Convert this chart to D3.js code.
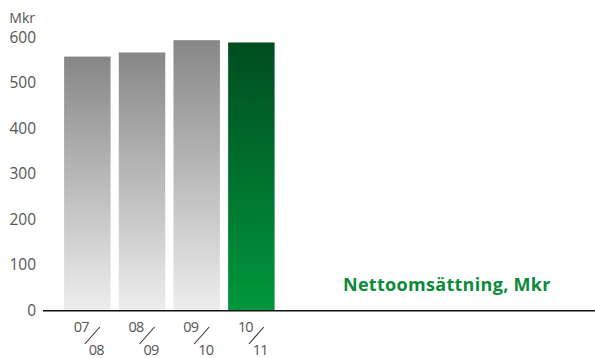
<!DOCTYPE html>
<html>
<head>
<meta charset="utf-8">
<script src="https://cdn.jsdelivr.net/npm/d3@7"></script>
<style>
  html, body { margin: 0; padding: 0; background: #fff; }
  svg { display: block; }
  text { font-family: "Open Sans", "Noto Sans", sans-serif; }
</style>
</head>
<body>
<svg id="chart" width="595" height="358"></svg>
<script>
// Nettoomsättning per räkenskapsår (Mkr)
const yearsFrom = ["07", "08", "09", "10"];
const yearsTo   = ["08", "09", "10", "11"];
const sales     = [557, 566, 593, 588];
const yTicks    = [0, 100, 200, 300, 400, 500, 600];
const unitLabel = "Mkr";
const title     = "Nettoomsättning, Mkr";

const svg = d3.select("#chart");
const defs = svg.append("defs");

function vGrad(id, top, bottom) {
  const g = defs.append("linearGradient").attr("id", id)
    .attr("x1", 0).attr("y1", 0).attr("x2", 0).attr("y2", 1);
  g.append("stop").attr("offset", "0%").attr("stop-color", top);
  g.append("stop").attr("offset", "100%").attr("stop-color", bottom);
}
vGrad("gGray", "#878787", "#ecedec");
vGrad("gGreen", "#004d20", "#00973c");

const y = d3.scaleLinear().domain([0, 600]).range([310, 37]);
const x = d3.scaleBand().domain(d3.range(sales.length))
  .range([60, 278.7]).paddingInner(0.15).paddingOuter(0.075);

// bars: past years grey, current year green
svg.append("g").selectAll("rect").data(sales).join("rect")
  .attr("x", (d, i) => x(i))
  .attr("width", x.bandwidth())
  .attr("y", d => y(d))
  .attr("height", d => y(0) - y(d))
  .attr("fill", (d, i) => i === sales.length - 1 ? "url(#gGreen)" : "url(#gGray)");

// y-axis labels
const yAxis = d3.axisLeft(y).tickValues(yTicks).tickSize(0).tickPadding(0);
const ya = svg.append("g").attr("transform", "translate(36,0)").call(yAxis);
ya.select(".domain").remove();
ya.selectAll("text")
  .attr("fill", "#555").attr("font-size", 15.5).attr("dy", "0.35em")
  .style("font-family", "'Open Sans', sans-serif");

svg.append("text").attr("x", 35).attr("y", 23)
  .attr("text-anchor", "end").attr("fill", "#555").attr("font-size", 14)
  .text(unitLabel);

// baseline
svg.append("line")
  .attr("x1", 43).attr("x2", 595)
  .attr("y1", y(0) + 0.8).attr("y2", y(0) + 0.8)
  .attr("stroke", "#111").attr("stroke-width", 1.5);

// year labels "07 / 08"
const xl = svg.append("g").selectAll("g").data(sales).join("g")
  .attr("transform", (d, i) => `translate(${x(i) + x.bandwidth() / 2},0)`);
xl.append("text").attr("x", 1.5).attr("y", 332)
  .attr("text-anchor", "end").attr("fill", "#555").attr("font-size", 14.5)
  .attr("letter-spacing", -0.8)
  .text((d, i) => yearsFrom[i]);
xl.append("text").attr("x", 1.5).attr("y", 355)
  .attr("text-anchor", "start").attr("fill", "#555").attr("font-size", 14.5)
  .attr("letter-spacing", -0.8)
  .text((d, i) => yearsTo[i]);
xl.append("line")
  .attr("x1", -2.5).attr("y1", 344).attr("x2", 12.5).attr("y2", 327)
  .attr("stroke", "#333").attr("stroke-width", 1.1);

// chart title
svg.append("text").attr("x", 343).attr("y", 291)
  .attr("fill", "#0a8a3a").attr("font-size", 18).attr("font-weight", "bold")
  .attr("letter-spacing", 0.3)
  .text(title);
</script>
</body>
</html>
